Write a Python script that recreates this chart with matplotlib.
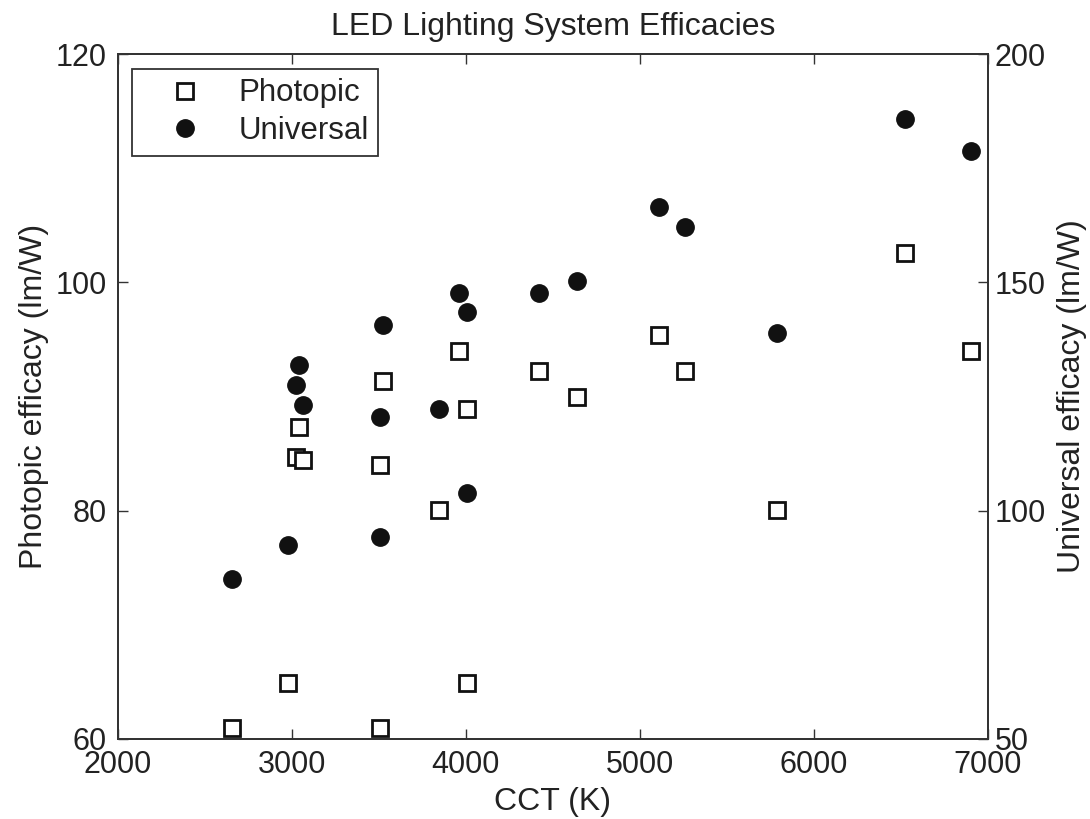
import matplotlib
matplotlib.use("Agg")
import matplotlib.pyplot as plt

plt.rcParams['font.family'] = ['Liberation Sans', 'DejaVu Sans']

### data ###
# photopic efficacy (left axis, lm/W)
cct_photopic = [2656, 2980, 3026, 3038, 3061, 3509, 3509, 3521, 3843, 3958,
                4004, 4004, 4420, 4638, 5112, 5261, 5790, 6528, 6906]
photopic = [61.0, 64.9, 84.7, 87.3, 84.4, 61.0, 84.0, 91.4, 80.1, 94.0,
            88.9, 64.9, 92.25, 90.0, 95.4, 92.25, 80.1, 102.6, 94.0]

# universal efficacy (right axis, lm/W)
cct_universal = [2656, 2980, 3024, 3038, 3063, 3509, 3509, 3521, 3843, 3958,
                 4004, 4004, 4420, 4638, 5112, 5261, 5790, 6528, 6906]
universal = [85.0, 92.4, 127.5, 131.9, 123.1, 94.2, 120.5, 140.7, 122.2, 147.7,
             143.6, 103.8, 147.6, 150.3, 166.6, 162.2, 138.9, 185.8, 178.8]

x_ticks = [2000, 3000, 4000, 5000, 6000, 7000]
left_ticks = [60, 80, 100, 120]
right_ticks = [50, 100, 150, 200]

edge = '#222222'
fig = plt.figure(figsize=(10.9, 8.19), dpi=100)
ax = fig.add_axes([0.1083, 0.0977, 0.7977, 0.8363])
ax2 = ax.twinx()

ax.plot(cct_photopic, photopic, 's', ms=12, mfc='white', mec='#111111', mew=2,
        label='Photopic')
ax2.plot(cct_universal, universal, 'o', ms=12.5, mfc='#111111', mec='#111111',
         label='Universal')

ax.set_xlim(2000, 7000)
ax.set_ylim(60, 120)
ax2.set_ylim(50, 200)
ax.set_xticks(x_ticks)
ax.set_yticks(left_ticks)
ax2.set_yticks(right_ticks)

for a in (ax, ax2):
    for s in a.spines.values():
        s.set_color('#333333')
        s.set_linewidth(1.3)
ax.tick_params(axis='both', direction='in', length=7, width=1, color='#333333',
               labelsize=22, labelcolor=edge, top=True, right=False)
ax.tick_params(axis='x', pad=8)
ax.tick_params(axis='y', pad=8)
ax2.tick_params(axis='y', direction='in', length=7, width=1, color='#333333',
                labelsize=22, labelcolor=edge, pad=5)

ax.set_xlabel('CCT (K)', fontsize=23, color=edge, labelpad=5)
ax.set_ylabel('Photopic efficacy (lm/W)', fontsize=23, color=edge, labelpad=5)
ax2.set_ylabel('Universal efficacy (lm/W)', fontsize=23, color=edge, labelpad=8)
ax.set_title('LED Lighting System Efficacies', fontsize=23, color=edge, pad=14)

h1, l1 = ax.get_legend_handles_labels()
h2, l2 = ax2.get_legend_handles_labels()
leg = ax2.legend(h1 + h2, l1 + l2, loc='upper left', fontsize=22.5,
                 bbox_to_anchor=(0.016, 0.978), fancybox=False, framealpha=1,
                 edgecolor='#333333', handlelength=2.8, handletextpad=0.3,
                 borderpad=0.3, labelspacing=0.25, borderaxespad=0)
leg.get_frame().set_linewidth(1.3)
for t in leg.get_texts():
    t.set_color(edge)

fig.savefig('out.png', dpi=100, facecolor='white')
